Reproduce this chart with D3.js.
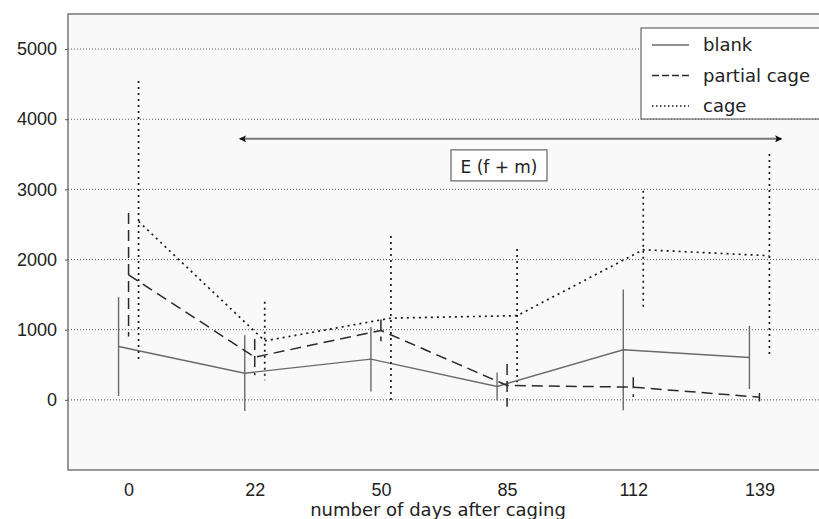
<!DOCTYPE html>
<html>
<head>
<meta charset="utf-8">
<script src="https://cdn.jsdelivr.net/npm/d3@7"></script>
<style>
  body { margin: 0; background: #fff; }
  svg { display: block; font-family: "DejaVu Sans", sans-serif; }
  .tick text { font-size: 18px; fill: #222; }
</style>
</head>
<body>
<div id="chart"></div>
<script>
// Values
const days = ["0", "22", "50", "85", "112", "139"];
const seriesNames = ["blank", "partial cage", "cage"];

const blankMean = [760, 380, 580, 190, 713, 604];
const blankErr = [705, 540, 460, 200, 860, 450];
const partialMean = [1783, 609, 989, 205, 181, 38];
const partialErr = [880, 260, 155, 305, 140, 60];
const cageMean = [2544, 840, 1165, 1200, 2140, 2054];
const cageErr = [2000, 560, 1170, 950, 840, 1450];

const yTicks = [0, 1000, 2000, 3000, 4000, 5000];
const yDomain = [-1000, 5500];

// Annotation: E (f + m) period spans from between day 0 and 22 to beyond 139
const annotLabel = "E (f + m)";
const annotValue = 3720;

const W = 819, H = 519;
const margin = { top: 14, right: 0, bottom: 49, left: 68 };
const width = 752, height = H - margin.top - margin.bottom;

const svg = d3.select("#chart").append("svg")
    .attr("width", W)
    .attr("height", H);

const g = svg.append("g")
    .attr("transform", `translate(${margin.left},${margin.top})`);

const x = d3.scalePoint().domain(days).range([0, width]).padding(0.48);
const y = d3.scaleLinear().domain(yDomain).range([height, 0]);

// plot background
g.append("rect")
    .attr("width", width).attr("height", height)
    .attr("fill", "#f9f9f9");

// dotted horizontal grid
g.selectAll(".grid").data(yTicks).enter().append("line")
    .attr("class", "grid")
    .attr("x1", 0).attr("x2", width)
    .attr("y1", d => y(d)).attr("y2", d => y(d))
    .attr("stroke", "#555")
    .attr("stroke-width", 1)
    .attr("stroke-dasharray", "1,2");

// frame: top, left, bottom
g.append("path")
    .attr("d", `M${width},0H0V${height}H${width}`)
    .attr("fill", "none")
    .attr("stroke", "#777")
    .attr("stroke-width", 1.5);

// y axis
const yAxis = g.append("g")
    .call(d3.axisLeft(y).tickValues(yTicks).tickSize(3).tickPadding(8).tickFormat(d3.format("d")));
yAxis.select(".domain").remove();
yAxis.selectAll(".tick line").attr("stroke", "#555");

// x axis labels
const xAxis = g.append("g")
    .attr("transform", `translate(0,${height})`)
    .call(d3.axisBottom(x).tickSize(0).tickPadding(13));
xAxis.select(".domain").remove();

svg.append("text")
    .attr("x", 438)
    .attr("y", 516)
    .attr("text-anchor", "middle")
    .attr("font-size", 18)
    .attr("fill", "#222")
    .text("number of days after caging");

// series
const series = [
    { name: seriesNames[0], mean: blankMean, err: blankErr, offset: -10,
      stroke: "#6a6a6a", width: 1.4, dash: null },
    { name: seriesNames[1], mean: partialMean, err: partialErr, offset: 0,
      stroke: "#2a2a2a", width: 1.5, dash: "11,6" },
    { name: seriesNames[2], mean: cageMean, err: cageErr, offset: 10,
      stroke: "#1a1a1a", width: 1.7, dash: "2,4" }
];

const line = d3.line()
    .x(d => d.x)
    .y(d => y(d.v));

series.forEach(s => {
    const pts = days.map((day, i) => ({
        x: x(day) + s.offset, v: s.mean[i], e: s.err[i]
    }));

    // error bars
    g.selectAll(null).data(pts).enter().append("line")
        .attr("x1", d => d.x).attr("x2", d => d.x)
        .attr("y1", d => y(d.v + d.e)).attr("y2", d => y(d.v - d.e))
        .attr("stroke", s.stroke)
        .attr("stroke-width", s.width)
        .attr("stroke-dasharray", s.dash);

    g.append("path")
        .datum(pts)
        .attr("d", line)
        .attr("fill", "none")
        .attr("stroke", s.stroke)
        .attr("stroke-width", s.width)
        .attr("stroke-dasharray", s.dash);
});

// annotation arrow
const defs = svg.append("defs");
defs.append("marker")
    .attr("id", "headR")
    .attr("viewBox", "0 0 10 10")
    .attr("refX", 9).attr("refY", 5)
    .attr("markerWidth", 7).attr("markerHeight", 7)
    .attr("markerUnits", "userSpaceOnUse")
    .attr("orient", "auto")
    .append("path").attr("d", "M0,0L10,5L0,10L2,5Z").attr("fill", "#111");
defs.append("marker")
    .attr("id", "headL")
    .attr("viewBox", "0 0 10 10")
    .attr("refX", 1).attr("refY", 5)
    .attr("markerWidth", 7).attr("markerHeight", 7)
    .attr("markerUnits", "userSpaceOnUse")
    .attr("orient", "auto")
    .append("path").attr("d", "M10,0L0,5L10,10L8,5Z").attr("fill", "#111");

const ax1 = x("22") - 15, ax2 = x("139") + 22;
g.append("line")
    .attr("x1", ax1).attr("x2", ax2)
    .attr("y1", y(annotValue)).attr("y2", y(annotValue))
    .attr("stroke", "#777")
    .attr("stroke-width", 2)
    .attr("marker-start", "url(#headL)")
    .attr("marker-end", "url(#headR)");

const boxCx = (x("50") + x("85")) / 2 + 55;
const boxY = y(annotValue) + 11;
g.append("rect")
    .attr("x", boxCx - 48).attr("y", boxY)
    .attr("width", 96).attr("height", 31)
    .attr("fill", "#fff")
    .attr("stroke", "#666")
    .attr("stroke-width", 1.2);
g.append("text")
    .attr("x", boxCx).attr("y", boxY + 23)
    .attr("text-anchor", "middle")
    .attr("font-size", 17)
    .attr("fill", "#222")
    .text(annotLabel);

// legend
const legend = svg.append("g")
    .attr("transform", "translate(641,28)");
legend.append("rect")
    .attr("width", 180).attr("height", 91)
    .attr("fill", "#fff")
    .attr("stroke", "#666")
    .attr("stroke-width", 1.2);
series.forEach((s, i) => {
    const item = legend.append("g")
        .attr("transform", `translate(0,${17 + i * 30.5})`);
    item.append("line")
        .attr("x1", 11).attr("x2", 48)
        .attr("stroke", s.stroke)
        .attr("stroke-width", s.width)
        .attr("stroke-dasharray", s.dash ? (i === 1 ? "7,3" : "1.5,2.5") : null);
    item.append("text")
        .attr("x", 62).attr("y", 6)
        .attr("font-size", 18)
        .attr("fill", "#222")
        .text(s.name);
});
</script>
</body>
</html>
